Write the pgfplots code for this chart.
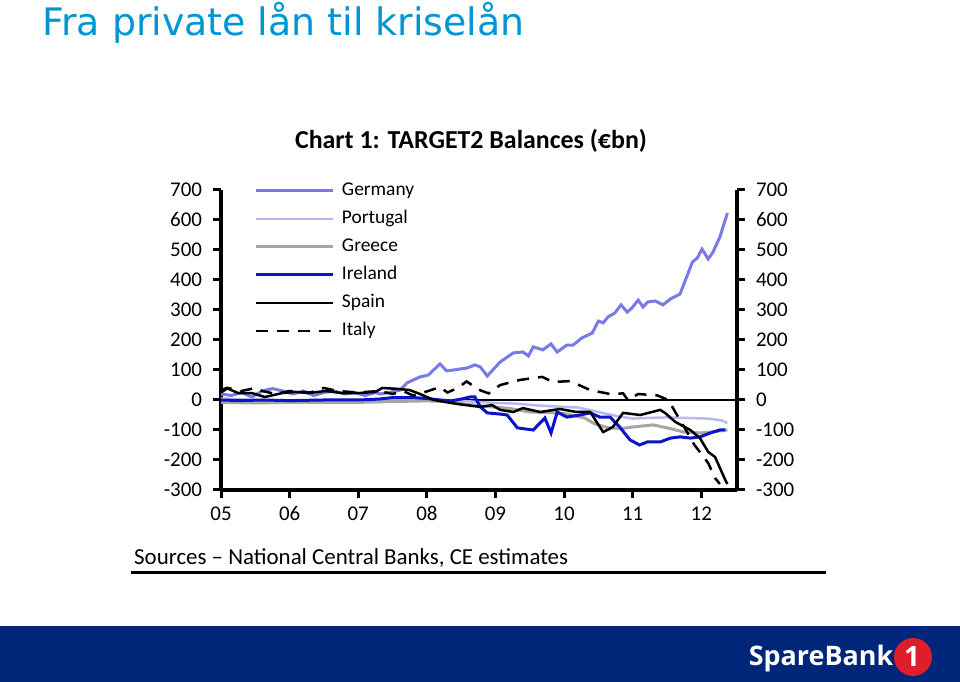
\documentclass[border=0pt]{standalone}
\usepackage{fontspec}
\setmainfont{Carlito}
\newfontfamily\slidefont{DejaVu Sans}
\newfontfamily\logofont{Open Sans}
\usepackage{pgfplots}
\pgfplotsset{compat=1.18}

\definecolor{slideblue}{RGB}{0,150,214}
\definecolor{barnavy}{RGB}{0,38,122}
\definecolor{logored}{RGB}{222,30,40}
\definecolor{germany}{RGB}{122,122,230}
\definecolor{portugal}{RGB}{184,184,240}
\definecolor{greece}{RGB}{166,166,166}
\definecolor{ireland}{RGB}{10,20,200}

\begin{document}
\begin{tikzpicture}
\useasboundingbox (0,0) rectangle (960bp,682bp);
\fill[white] (0,0) rectangle (960bp,682bp);
% slide frame
\fill[barnavy] (0,0) rectangle (960bp,56bp);
\node[anchor=base west, inner sep=0pt, text=slideblue, font=\slidefont\fontsize{38}{40}\selectfont]
  at (42bp,646bp) {Fra private lån til kriselån};
\node[anchor=center, inner sep=0pt, text=white, font=\logofont\bfseries\fontsize{27}{30}\selectfont]
  at (821bp,23bp) {SpareBank};
\fill[logored] (913bp,25bp) circle (19bp);
\node[text=white, font=\logofont\bfseries\fontsize{28}{30}\selectfont] at (912bp,25bp) {1};
% chart title and source
\node[anchor=center, inner sep=0pt, font=\bfseries\fontsize{26}{28}\selectfont]
  at (471bp,541bp) {Chart 1: TARGET2 Balances (€bn)};
\node[anchor=base west, inner sep=0pt, font=\fontsize{23}{26}\selectfont]
  at (134bp,117bp) {Sources -- National Central Banks, CE estimates};
\draw[line width=3bp] (131bp,109bp) -- (826bp,109bp);

\pgfplotsset{
  chartbase/.style={
    scale only axis, width=516bp, height=300bp,
    at={(221bp,192bp)}, anchor=south west,
    xmin=2005, xmax=2012.52, ymin=-300, ymax=700,
    ytick={-300,-200,-100,0,100,200,300,400,500,600,700},
    yticklabels={-300,-200,-100,0,100,200,300,400,500,600,700},
    tick align=outside, major tick length=8bp,
    line width=4bp,
    tick style={black, line width=3bp},
    major tick style={black, line width=3bp},
    axis line style={black, line width=4bp},
    ticklabel style={font=\fontsize{21}{22}\selectfont},
  },
}

\begin{axis}[chartbase,
  axis x line*=bottom, axis y line*=left,
  xtick={2005,2006,2007,2008,2009,2010,2011,2012},
  xticklabels={05,06,07,08,09,10,11,12},
  xticklabel style={text height=14bp, text depth=0pt, inner sep=0pt, yshift=-7bp},
  yticklabel style={inner sep=0pt, xshift=-9bp},
  legend style={at={(0.062,1.04)}, anchor=north west, draw=none, fill=none,
    inner sep=0pt, row sep=6bp, font=\fontsize{19.5}{20}\selectfont,
    nodes={inner sep=2bp, text height=14bp, text depth=4bp},
    /tikz/every odd column/.append style={column sep=5bp}},
  legend cell align=left,
  legend image code/.code={\draw[#1] (0bp,0bp) -- (77bp,0bp);},
]
\addplot[forget plot, black, line width=2bp] coordinates {(2005,0) (2012.52,0)};

\addplot[germany, line width=3bp] coordinates {
(2005.0,20)(2005.15,15)(2005.3,25)(2005.45,10)(2005.6,30)(2005.75,38)(2005.9,30)
(2006.05,20)(2006.2,30)(2006.35,15)(2006.5,25)(2006.65,30)(2006.8,20)(2006.95,25)
(2007.1,15)(2007.25,25)(2007.32,20)(2007.45,25)(2007.61,33)(2007.71,57)(2007.90,77)
(2008.02,83)(2008.19,120)(2008.29,97)(2008.45,102)(2008.59,107)(2008.70,117)(2008.78,110)
(2008.88,80)(2009.07,127)(2009.26,157)(2009.40,160)(2009.48,147)(2009.55,177)(2009.69,167)
(2009.81,187)(2009.90,160)(2010.04,183)(2010.13,183)(2010.26,207)(2010.41,223)(2010.50,263)
(2010.57,257)(2010.64,277)(2010.74,290)(2010.83,317)(2010.92,293)(2010.99,307)(2011.08,333)
(2011.15,310)(2011.22,327)(2011.33,330)(2011.44,317)(2011.55,337)(2011.69,353)(2011.87,460)
(2011.94,473)(2012.01,503)(2012.10,470)(2012.17,493)(2012.27,543)(2012.38,623)};
\addlegendentry{Germany}

\addplot[portugal, line width=2.5bp] coordinates {
(2005.0,5)(2005.5,0)(2006.0,-3)(2006.5,0)(2007.0,-3)(2007.5,2)(2008.0,0)(2008.5,-3)
(2009.0,-10)(2009.3,-12)(2009.6,-18)(2009.9,-22)(2010.2,-25)(2010.4,-35)(2010.6,-45)
(2010.8,-55)(2011.0,-62)(2011.2,-60)(2011.5,-58)(2011.8,-60)(2012.1,-62)(2012.3,-68)(2012.38,-77)};
\addlegendentry{Portugal}

\addplot[greece, line width=3bp] coordinates {
(2005.0,-8)(2005.5,-10)(2006.0,-8)(2006.5,-8)(2007.0,-8)(2007.5,-5)(2008.0,-3)(2008.3,-5)
(2008.6,-15)(2008.9,-22)(2009.2,-28)(2009.5,-40)(2009.8,-42)(2010.0,-45)(2010.3,-60)
(2010.45,-80)(2010.65,-93)(2010.85,-95)(2011.0,-90)(2011.3,-83)(2011.5,-93)(2011.75,-107)
(2012.0,-110)(2012.2,-105)(2012.38,-100)};
\addlegendentry{Greece}

\addplot[ireland, line width=3bp] coordinates {
(2005.0,0)(2005.3,-2)(2005.6,0)(2006.0,-2)(2006.5,0)(2007.0,0)(2007.3,3)(2007.5,8)
(2007.8,8)(2008.0,5)(2008.2,0)(2008.35,-3)(2008.5,3)(2008.63,10)(2008.70,10)(2008.78,-23)
(2008.88,-43)(2009.07,-47)(2009.17,-50)(2009.32,-93)(2009.55,-100)(2009.72,-60)(2009.81,-110)
(2009.90,-40)(2010.04,-57)(2010.23,-50)(2010.38,-43)(2010.52,-57)(2010.67,-57)(2010.81,-90)
(2010.96,-133)(2011.10,-150)(2011.21,-140)(2011.40,-140)(2011.55,-127)(2011.69,-123)
(2011.84,-127)(2011.98,-123)(2012.13,-110)(2012.27,-100)(2012.35,-100)};
\addlegendentry{Ireland}

\addplot[black, line width=2.5bp] coordinates {
(2005.0,33)(2005.08,40)(2005.25,23)(2005.45,23)(2005.64,10)(2005.89,23)(2006.08,27)
(2006.27,23)(2006.52,30)(2006.77,23)(2007.0,23)(2007.25,27)(2007.35,40)(2007.58,37)
(2007.75,33)(2007.90,20)(2008.1,0)(2008.3,-8)(2008.5,-15)(2008.78,-23)(2008.95,-17)
(2009.07,-33)(2009.26,-40)(2009.40,-27)(2009.65,-40)(2009.94,-30)(2010.18,-40)(2010.38,-40)
(2010.57,-107)(2010.71,-90)(2010.86,-43)(2011.11,-50)(2011.40,-33)(2011.47,-43)(2011.62,-73)
(2011.84,-100)(2011.98,-127)(2012.10,-173)(2012.20,-190)(2012.35,-267)(2012.38,-280)};
\addlegendentry{Spain}

\addplot[black, line width=2.5bp, dash pattern=on 12bp off 9bp] coordinates {
(2005.0,25)(2005.1,40)(2005.3,30)(2005.5,40)(2005.6,30)(2005.8,20)(2006.0,30)(2006.3,25)
(2006.5,40)(2006.7,30)(2007.0,25)(2007.3,30)(2007.5,20)(2007.65,30)(2007.8,15)(2008.02,30)
(2008.19,43)(2008.3,25)(2008.45,40)(2008.58,62)(2008.75,35)(2008.9,22)(2009.07,50)
(2009.36,67)(2009.68,77)(2009.84,60)(2010.09,63)(2010.38,33)(2010.67,20)(2010.86,22)
(2010.93,0)(2011.08,20)(2011.36,15)(2011.52,0)(2011.62,-40)(2011.75,-90)(2011.90,-150)
(2012.0,-180)(2012.1,-210)(2012.2,-260)(2012.27,-280)};
\addlegendentry{Italy}
\end{axis}

\begin{axis}[chartbase,
  axis x line=none, axis y line*=right,
  yticklabel style={inner sep=0pt, xshift=9bp},
]
\end{axis}
\end{tikzpicture}
\end{document}
